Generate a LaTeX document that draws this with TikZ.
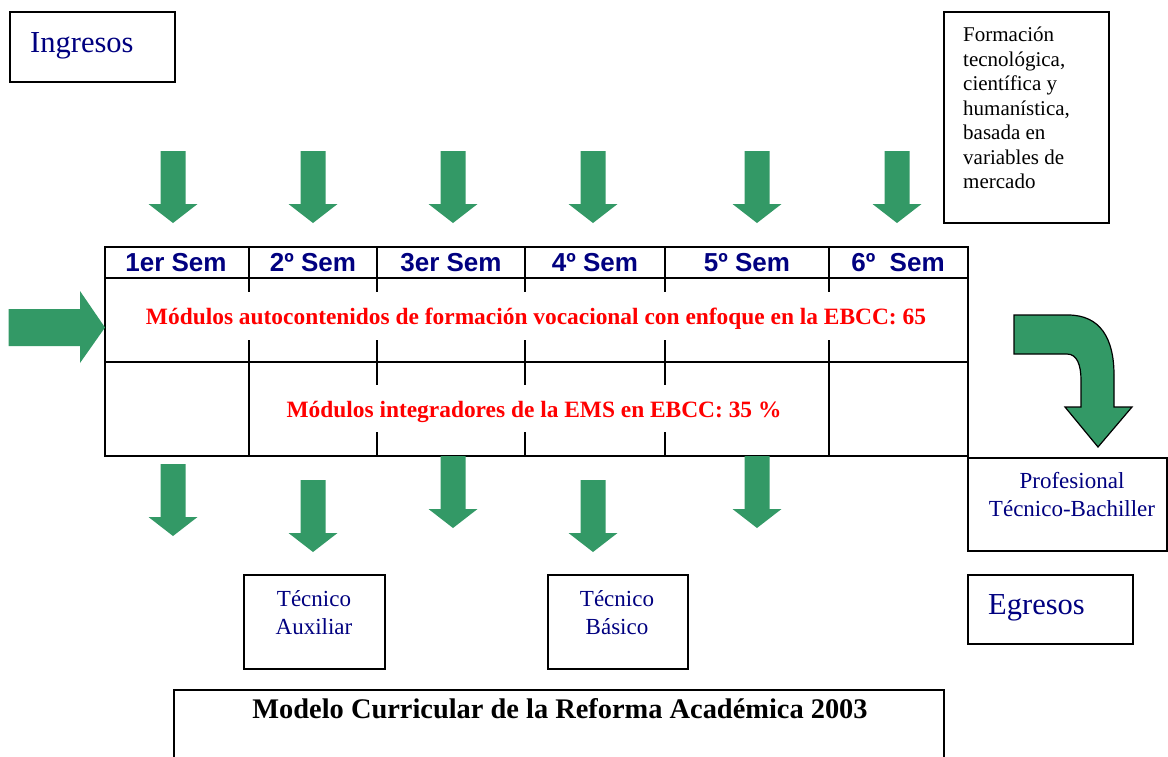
\documentclass[tikz,border=0pt]{standalone}
\usepackage{fontspec}
\setmainfont{Liberation Serif}
\newfontfamily\headfont{Liberation Sans}
\definecolor{arrowgreen}{HTML}{339966}
\definecolor{labelblue}{HTML}{000080}
\tikzset{
  box/.style={draw=black, line width=1.5pt, anchor=north west, inner sep=0pt},
  tableline/.style={line width=2pt},
  semlabel/.style={anchor=base, text=labelblue, font=\headfont\bfseries\fontsize{26}{30}\selectfont},
  modlabel/.style={anchor=base, text=red, font=\bfseries\fontsize{23.4}{27}\selectfont},
  outlabel/.style={anchor=base, text=labelblue, align=center, inner sep=0pt, font=\fontsize{23}{28}\selectfont},
  biglabel/.style={anchor=base west, text=labelblue, inner sep=0pt, font=\fontsize{30.5}{34}\selectfont},
}
\begin{document}
\begin{tikzpicture}[x=1pt,y=-1pt,line join=miter]
\clip (0,0) rectangle (1168,756);
\fill[white] (0,0) rectangle (1168,756);
% frames
\node[box, minimum width=165pt, minimum height=70pt] (ingresos) at (9,11) {};
\node[box, minimum width=165pt, minimum height=211pt] (formacion) at (943,11) {};
\node[box, minimum width=199pt, minimum height=93pt] (profesional) at (967,457) {};
\node[box, minimum width=165pt, minimum height=69pt] (egresos) at (967,574) {};
\node[box, minimum width=141pt, minimum height=94pt] (auxiliar) at (243,574) {};
\node[box, minimum width=140pt, minimum height=94pt] (basico) at (547,574) {};
\node[box, minimum width=770pt, minimum height=90pt] (titulo) at (173,689) {};
% texts
\node[biglabel] (ingresosTxt) at (30,52) {Ingresos};
\node[biglabel] (egresosTxt) at (988,614) {Egresos};
\node[anchor=north west, align=left, inner sep=0pt, font=\fontsize{21}{24.5}\selectfont] (formacionTxt) at (963,27)
  {Formación\\tecnológica,\\científica y\\humanística,\\basada en\\variables de\\mercado};
\node[outlabel] (profesionalTxt) at (1072,516) {Profesional\\Técnico-Bachiller};
\node[outlabel] (auxiliarTxt) at (314,634) {Técnico\\Auxiliar};
\node[outlabel] (basicoTxt) at (617,634) {Técnico\\Básico};
\node[anchor=base, inner sep=0pt, font=\bfseries\fontsize{28.4}{32}\selectfont] (tituloTxt) at (560,718)
  {Modelo Curricular de la Reforma Académica 2003};
% table
\draw[tableline] (105,247) rectangle (968,456);
\draw[tableline] (105,278) -- (968,278) (105,362) -- (968,362);
\foreach \x in {249,377,525,665,829}
  \draw[tableline] (\x,247) -- (\x,292) (\x,340) -- (\x,362);
\draw[tableline] (249,362) -- (249,456) (829,362) -- (829,456);
\foreach \x in {377,525,665}
  \draw[tableline] (\x,362) -- (\x,385) (\x,432) -- (\x,456);
\foreach \x/\t [count=\n] in {176/1er Sem,313/2º Sem,451/3er Sem,595/4º Sem,747/5º Sem,898/6º~~Sem}
  \node[semlabel] (sem\n) at (\x,271) {\t};
\node[modlabel] (vocacional) at (536,324) {Módulos autocontenidos de formación vocacional con enfoque en la EBCC: 65};
\node[modlabel] (integrador) at (534,417) {Módulos integradores de la EMS en EBCC: 35 \%};
% arrows
\foreach \x/\y in {173/151,313/151,453/151,593/151,757/151,897/151,173/464,313/480,453/456,593/480,757/456}
  \fill[arrowgreen] (\x-12.5,\y) -- (\x+12.5,\y) -- (\x+12.5,\y+53) -- (\x+24.5,\y+53) -- (\x,\y+72)
    -- (\x-24.5,\y+53) -- (\x-12.5,\y+53) -- cycle;
\fill[arrowgreen] (8.5,309) -- (80,309) -- (80,291) -- (105,327.5) -- (80,363) -- (80,346) -- (8.5,346) -- cycle;
\filldraw[fill=arrowgreen, draw=black, line width=1.2pt] (1014,315) -- (1068,315)
  .. controls (1100,315) and (1114,338) .. (1114,375) -- (1114,407) -- (1132,407) -- (1098,447)
  -- (1065,407) -- (1081,407) -- (1081,380) .. controls (1081,365) and (1077,354) .. (1067,354)
  -- (1014,354) -- cycle;
\end{tikzpicture}
\end{document}
